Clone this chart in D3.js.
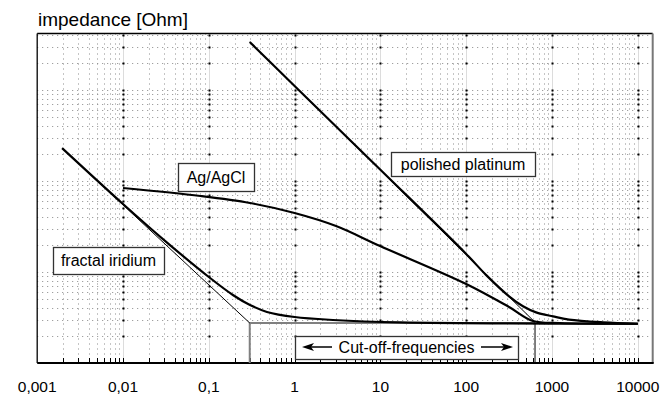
<!DOCTYPE html>
<html>
<head>
<meta charset="utf-8">
<script src="https://cdnjs.cloudflare.com/ajax/libs/d3/7.8.5/d3.min.js"></script>
<style>
  body { margin: 0; background: #fff; }
  text { font-family: "Liberation Sans", Arial, Helvetica, sans-serif; fill: #000; }
</style>
</head>
<body>
<svg id="chart" width="672" height="394"></svg>
<script>
// x axis: frequency (log), y axis: impedance (log, unlabelled)
var xTicks = [0.001, 0.01, 0.1, 1, 10, 100, 1000, 10000]
var xTickLabels = ['0,001', '0,01', '0,1', '1', '10', '100', '1000', '10000']

// polished platinum
var platinumF = [0.3, 1, 10, 100, 170, 316, 459, 652, 1028, 1578, 3927, 10000]
var platinumZ = [3370, 1107, 133, 15.8, 9.3, 5.4, 4.2, 3.6, 3.25, 3.0, 2.8, 2.7]
var platinumAsymF = [0.3, 634]
var platinumAsymZ = [3370, 2.8]

// fractal iridium
var iridiumF = [0.00195, 0.01, 0.0292, 0.1, 0.191, 0.302, 0.476, 1, 2.8, 16.9, 10000]
var iridiumZ = [230, 55.9, 23.0, 8.81, 5.59, 4.34, 3.64, 3.2, 2.97, 2.79, 2.7]
var iridiumAsymF = [0.00195, 0.3]
var iridiumAsymZ = [230, 2.75]

// Ag/AgCl
var agclF = [0.01, 0.08, 0.302, 1, 3.04, 9.9, 100, 316, 601, 1239, 10000]
var agclZ = [83.8, 68.4, 57.3, 44.5, 32.0, 19.3, 7.38, 4.12, 2.89, 2.75, 2.7]

// cut-off frequency bracket
var cutoffF = [0.3, 634]
var cutoffZ = 2.75

var plotLeft = 37.2, plotRight = 652.7, plotTop = 33.5, plotBottom = 363

var svg = d3.select('#chart')

var x = d3.scaleLog()
  .domain([0.001, Math.pow(10, 4.1737)])
  .range([plotLeft, plotRight])

var y = d3.scaleLog()
  .domain([1, Math.pow(10, (plotBottom - plotTop) / 91)])
  .range([plotBottom, plotTop])

drawGrid()
drawFrame()
drawCurves()
drawLabels()

function gridValues(domain) {
  var out = []
  var lo = Math.floor(Math.log10(domain[0]))
  var hi = Math.ceil(Math.log10(domain[1]))
  for (var n = lo; n <= hi; n++) {
    for (var k = 1; k <= 9; k++) {
      var v = k * Math.pow(10, n)
      if (v > domain[0] * 1.0001 && v < domain[1]) out.push({ v: v, decade: k === 1 })
    }
  }
  return out
}

function drawGrid() {
  var g = svg.append('g')
  var hLines = gridValues(y.domain())
  var vLines = gridValues(x.domain())

  g.selectAll('line.h')
    .data(hLines)
    .enter()
    .append('line')
    .attr('x1', plotLeft).attr('x2', plotRight)
    .attr('y1', function(d) { return Math.round(y(d.v)) + 0.5 })
    .attr('y2', function(d) { return Math.round(y(d.v)) + 0.5 })
    .attr('stroke', '#8a8a8a')
    .attr('stroke-dasharray', '1,4')

  g.selectAll('line.v')
    .data(vLines)
    .enter()
    .append('line')
    .attr('y1', plotTop).attr('y2', plotBottom)
    .attr('x1', function(d) { return Math.round(x(d.v)) + 0.5 })
    .attr('x2', function(d) { return Math.round(x(d.v)) + 0.5 })
    .attr('stroke', function(d) { return d.decade ? '#b8b8b8' : '#8a8a8a' })
    .attr('stroke-dasharray', function(d) { return d.decade ? '1,1' : '1,4' })

  // dark dots where decade lines cross the horizontal grid
  var dots = []
  vLines.filter(function(d) { return d.decade }).forEach(function(vd) {
    hLines.forEach(function(hd) { dots.push([vd.v, hd.v]) })
  })
  g.selectAll('rect.dot')
    .data(dots)
    .enter()
    .append('rect')
    .attr('x', function(d) { return Math.round(x(d[0])) - 0.5 })
    .attr('y', function(d) { return Math.round(y(d[1])) - 0.5 })
    .attr('width', 2).attr('height', 2)
    .attr('fill', '#000')

  // small ticks standing on the bottom axis
  var tickVals = vLines.filter(function(d) { return d.v <= 10000.1 })
  g.selectAll('line.t')
    .data(tickVals)
    .enter()
    .append('line')
    .attr('x1', function(d) { return Math.round(x(d.v)) + 0.5 })
    .attr('x2', function(d) { return Math.round(x(d.v)) + 0.5 })
    .attr('y1', plotBottom).attr('y2', plotBottom - 5)
    .attr('stroke', '#000')
}

function drawFrame() {
  svg.append('line').attr('x1', plotLeft).attr('x2', plotRight).attr('y1', plotTop).attr('y2', plotTop)
    .attr('stroke', '#000').attr('stroke-width', 1.3)
  svg.append('line').attr('x1', plotLeft).attr('x2', plotLeft).attr('y1', plotTop).attr('y2', plotBottom)
    .attr('stroke', '#000').attr('stroke-width', 1.3)
  svg.append('line').attr('x1', plotRight).attr('x2', plotRight).attr('y1', plotTop).attr('y2', plotBottom)
    .attr('stroke', '#777').attr('stroke-width', 2)
  svg.append('line').attr('x1', plotLeft).attr('x2', plotRight + 1).attr('y1', plotBottom).attr('y2', plotBottom)
    .attr('stroke', '#000').attr('stroke-width', 2)

  svg.append('g').selectAll('text')
    .data(xTicks)
    .enter()
    .append('text')
    .attr('x', function(d) { return x(d) })
    .attr('y', 392)
    .attr('text-anchor', 'middle')
    .style('font-size', '15.5px')
    .text(function(d, i) { return xTickLabels[i] })

  svg.append('text')
    .attr('x', 38).attr('y', 26)
    .style('font-size', '19px')
    .text('impedance [Ohm]')
}

function series(fs, zs) {
  return fs.map(function(f, i) { return [f, zs[i]] })
}

function drawCurves() {
  var line = d3.line()
    .x(function(d) { return x(d[0]) })
    .y(function(d) { return y(d[1]) })
  var smooth = d3.line()
    .x(function(d) { return x(d[0]) })
    .y(function(d) { return y(d[1]) })
    .curve(d3.curveCatmullRom.alpha(0.5))

  // cut-off bracket
  var bx0 = x(cutoffF[0]), bx1 = x(cutoffF[1]), by = y(cutoffZ)
  svg.append('path')
    .attr('d', 'M' + bx0 + ',' + plotBottom + 'V' + by + 'H' + bx1)
    .attr('fill', 'none').attr('stroke', '#808080').attr('stroke-width', 2)
  svg.append('line')
    .attr('x1', bx1).attr('x2', bx1).attr('y1', by).attr('y2', plotBottom)
    .attr('stroke', '#000').attr('stroke-width', 1)

  // asymptotes
  svg.append('path').datum(series(platinumAsymF, platinumAsymZ))
    .attr('d', line).attr('fill', 'none').attr('stroke', '#000').attr('stroke-width', 1)
  svg.append('path').datum(series(iridiumAsymF, iridiumAsymZ))
    .attr('d', line).attr('fill', 'none').attr('stroke', '#000').attr('stroke-width', 1)

  ;[series(platinumF, platinumZ), series(iridiumF, iridiumZ), series(agclF, agclZ)]
    .forEach(function(s) {
      svg.append('path').datum(s)
        .attr('d', smooth)
        .attr('fill', 'none')
        .attr('stroke', '#000')
        .attr('stroke-width', 2.2)
    })
}

function box(x0, y0, w, h, label, baseline) {
  svg.append('rect')
    .attr('x', x0 + 0.5).attr('y', y0 + 0.5).attr('width', w).attr('height', h)
    .attr('fill', '#fff').attr('stroke', '#333').attr('stroke-width', 1.3)
  if (label) {
    svg.append('text')
      .attr('x', x0 + w / 2).attr('y', baseline)
      .attr('text-anchor', 'middle')
      .style('font-size', '16px')
      .text(label)
  }
}

function arrow(x1, x2, yy) {
  var dir = x2 > x1 ? 1 : -1
  svg.append('line')
    .attr('x1', x1).attr('x2', x2 - dir * 8).attr('y1', yy).attr('y2', yy)
    .attr('stroke', '#000').attr('stroke-width', 1.5)
  svg.append('path')
    .attr('d', 'M' + x2 + ',' + yy + 'L' + (x2 - dir * 12) + ',' + (yy - 4) +
      'L' + (x2 - dir * 9) + ',' + yy + 'L' + (x2 - dir * 12) + ',' + (yy + 4) + 'Z')
    .attr('fill', '#000')
}

function drawLabels() {
  box(178, 163, 76, 28, 'Ag/AgCl', 183)
  box(391, 152, 144, 24, 'polished platinum', 170)
  box(53, 247, 111, 27, 'fractal iridium', 266)

  box(295, 336, 223, 23, 'Cut-off-frequencies', 353)
  arrow(332, 302, 347)
  arrow(481, 513, 347)
}
</script>
</body>
</html>
